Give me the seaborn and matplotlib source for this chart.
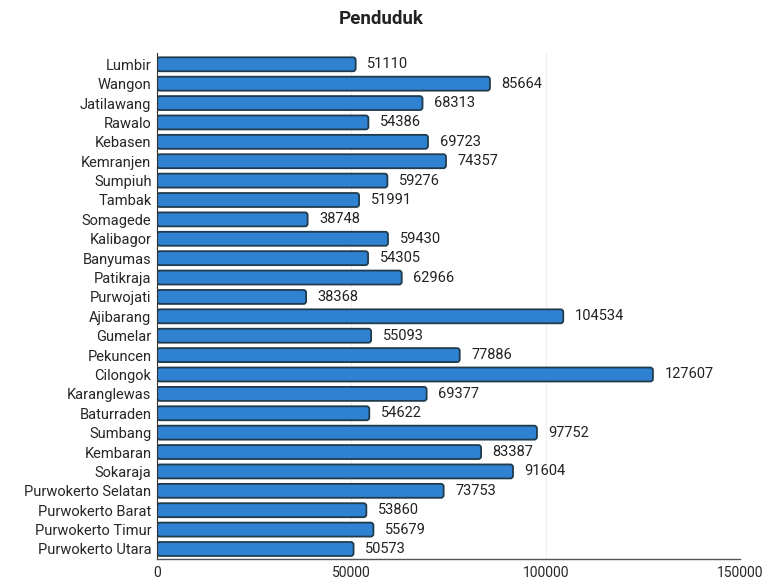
import matplotlib.pyplot as plt
import pandas as pd
import seaborn as sb
from matplotlib.patches import FancyBboxPatch

kecamatan = [
    "Lumbir", "Wangon", "Jatilawang", "Rawalo", "Kebasen", "Kemranjen",
    "Sumpiuh", "Tambak", "Somagede", "Kalibagor", "Banyumas", "Patikraja",
    "Purwojati", "Ajibarang", "Gumelar", "Pekuncen", "Cilongok",
    "Karanglewas", "Baturraden", "Sumbang", "Kembaran", "Sokaraja",
    "Purwokerto Selatan", "Purwokerto Barat", "Purwokerto Timur",
    "Purwokerto Utara",
]
penduduk = [
    51110, 85664, 68313, 54386, 69723, 74357, 59276, 51991, 38748, 59430,
    54305, 62966, 38368, 104534, 55093, 77886, 127607, 69377, 54622, 97752,
    83387, 91604, 73753, 53860, 55679, 50573,
]
x_ticks = [0, 50000, 100000, 150000]

df = pd.DataFrame({"kecamatan": kecamatan, "penduduk": penduduk})

sb.set_style("white")
plt.rcParams["font.family"] = ["Roboto", "DejaVu Sans"]

fig = plt.figure(figsize=(7.66, 5.85), dpi=100)
ax = fig.add_axes([0.205, 0.045, 0.761, 0.865])

sb.barplot(data=df, x="penduduk", y="kecamatan", color="#2f82d2",
           width=0.72, saturation=1, ax=ax)

# swap square bars for rounded ones
for p in list(ax.patches):
    x, y = p.get_x(), p.get_y()
    w, h = p.get_width(), p.get_height()
    p.remove()
    ax.add_patch(FancyBboxPatch(
        (x, y), w, h,
        boxstyle="round,pad=0,rounding_size=700",
        mutation_aspect=0.0002,
        facecolor="#2f82d2", edgecolor="#1f3b4c", linewidth=1.3))

for i, v in enumerate(penduduk):
    ax.text(v + 3000, i, str(v), va="center", ha="left",
            fontsize=10.5, color="#222222")

ax.set_xlim(0, 150000)
ax.set_ylim(len(kecamatan) - 0.5, -0.6)
ax.set_xticks(x_ticks)
ax.set_xticklabels([str(t) for t in x_ticks], fontsize=10)
ax.tick_params(axis="y", labelsize=10.5, length=0, pad=4)
ax.tick_params(axis="x", length=0, pad=5)
ax.set_xlabel("")
ax.set_ylabel("")
ax.xaxis.grid(True, color="#f0f0f0", linewidth=0.8)
ax.set_axisbelow(True)

sb.despine(ax=ax, top=True, right=True)
ax.spines["left"].set_color("#333333")
ax.spines["bottom"].set_color("#555555")
ax.spines["bottom"].set_linewidth(1.0)

fig.text(0.497, 0.968, "Penduduk", ha="center", va="center",
         fontsize=13.5, fontweight="bold", color="#222222")

fig.savefig("out.png", dpi=100)
